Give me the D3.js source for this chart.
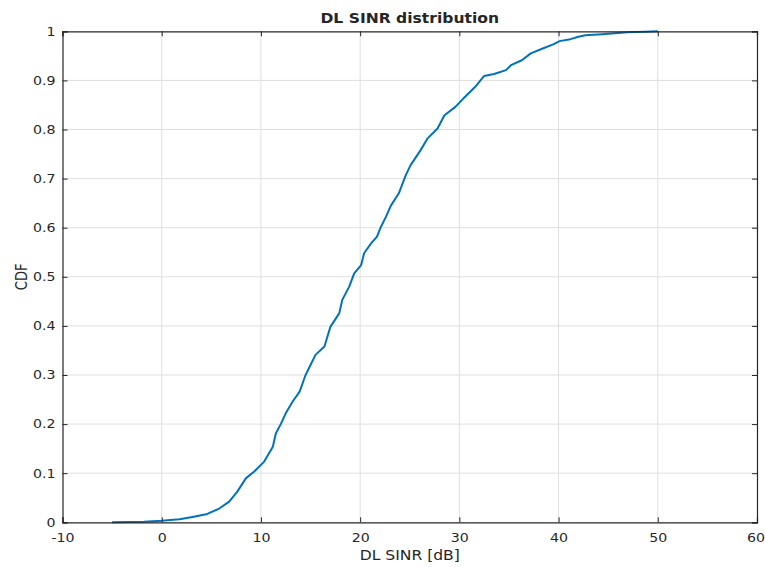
<!DOCTYPE html>
<html><head><meta charset="utf-8">
<script src="https://cdn.jsdelivr.net/npm/d3@7"></script>
<style>body{margin:0;background:#fff}svg{display:block}text{font-family:"DejaVu Sans",sans-serif;fill:#262626}</style>
</head><body>
<script>
const title = "DL SINR distribution";
const xLabel = "DL SINR [dB]";
const yLabel = "CDF";
const xTicks = [-10, 0, 10, 20, 30, 40, 50, 60];
const yTicks = [0, 0.1, 0.2, 0.3, 0.4, 0.5, 0.6, 0.7, 0.8, 0.9, 1];
const sinr = [-5.0, -1.8, 0.0, 1.8, 3.1, 4.6, 5.8, 6.8, 7.6, 8.5, 9.3, 10.0, 10.3, 10.8, 11.2, 11.5, 12.0, 12.5, 13.2, 13.9, 14.5, 15.5, 16.4, 17.0, 17.9, 18.2, 18.9, 19.4, 20.1, 20.4, 21.1, 21.7, 22.1, 22.6, 23.1, 23.9, 24.6, 25.1, 26.1, 26.8, 27.8, 28.5, 29.6, 30.4, 31.6, 32.5, 33.5, 34.7, 35.2, 36.3, 37.2, 38.4, 39.4, 40.1, 41.2, 42.0, 42.7, 44.4, 46.9, 48.8, 50.0];
const cdf  = [0.000, 0.001, 0.003, 0.006, 0.011, 0.017, 0.028, 0.042, 0.062, 0.090, 0.103, 0.117, 0.123, 0.140, 0.154, 0.181, 0.200, 0.222, 0.246, 0.266, 0.300, 0.341, 0.358, 0.398, 0.426, 0.453, 0.480, 0.507, 0.524, 0.548, 0.568, 0.582, 0.602, 0.622, 0.645, 0.670, 0.707, 0.728, 0.758, 0.782, 0.802, 0.829, 0.846, 0.863, 0.887, 0.909, 0.913, 0.921, 0.931, 0.941, 0.955, 0.965, 0.973, 0.980, 0.984, 0.989, 0.992, 0.994, 0.998, 0.999, 1.000];

const W = 765, H = 567;
const SX = 1.18; // horizontal text stretch seen in the reference
const m = {left: 62.5, right: 8, top: 31.3, bottom: 44.7};
const svg = d3.select("body").append("svg").attr("width", W).attr("height", H);
const x = d3.scaleLinear().domain([-10, 60]).range([m.left, W - m.right]);
const y = d3.scaleLinear().domain([0, 1]).range([H - m.bottom, m.top]);

// grid
const g = svg.append("g");
g.selectAll(".gx").data(xTicks.slice(1, -1)).join("line")
  .attr("x1", d => x(d)).attr("x2", d => x(d)).attr("y1", y(0)).attr("y2", y(1))
  .attr("stroke", "#dfdfdf").attr("stroke-width", 1);
g.selectAll(".gy").data(yTicks.slice(1, -1)).join("line")
  .attr("x1", x(-10)).attr("x2", x(60)).attr("y1", d => y(d)).attr("y2", d => y(d))
  .attr("stroke", "#dfdfdf").attr("stroke-width", 1);

// curve
const pts = sinr.map((v, i) => [v, cdf[i]]);
svg.append("path").datum(pts)
  .attr("d", d3.line().x(d => x(d[0])).y(d => y(d[1])).curve(d3.curveLinear))
  .attr("fill", "none").attr("stroke", "#0072BD").attr("stroke-width", 2).attr("stroke-linejoin", "round");

// axes
const tl = -5;
const fmt = d => String(d);
const ax = svg.append("g").attr("transform", `translate(0,${y(0)})`)
  .call(d3.axisBottom(x).tickValues(xTicks).tickFormat(fmt).tickSize(tl).tickPadding(11.5));
const axT = svg.append("g").attr("transform", `translate(0,${y(1)})`)
  .call(d3.axisTop(x).tickValues(xTicks).tickFormat("").tickSize(tl));
const ay = svg.append("g").attr("transform", `translate(${x(-10)},0)`)
  .call(d3.axisLeft(y).tickValues(yTicks).tickFormat(fmt).tickSize(tl));
const ayR = svg.append("g").attr("transform", `translate(${x(60)},0)`)
  .call(d3.axisRight(y).tickValues(yTicks).tickFormat("").tickSize(tl));
[ax, axT, ay, ayR].forEach(a => {
  a.select(".domain").attr("stroke", "#262626").attr("stroke-width", 1.2);
  a.selectAll(".tick line").attr("stroke", "#262626");
  a.selectAll("text").attr("font-size", 12).attr("fill", "#262626").attr("font-family", "DejaVu Sans")
    .attr("transform", `scale(${SX},1)`);
});
ay.selectAll("text").attr("x", -7 / SX);
// keep the last x label inside the window
ax.selectAll(".tick text").filter(d => d === 60).attr("text-anchor", "end").attr("x", 7.5 / SX);

function stretchedText(cx, cy, str, size, bold) {
  svg.append("text").attr("transform", `translate(${cx},${cy}) scale(${SX},1)`)
    .attr("text-anchor", "middle").attr("font-size", size)
    .attr("font-weight", bold ? "bold" : "normal").text(str);
}
stretchedText((x(-10) + x(60)) / 2, 23, title, 13.2, true);
stretchedText((x(-10) + x(60)) / 2, 560, xLabel, 13.2, false);
svg.append("text").attr("transform", `translate(27,${(y(0) + y(1)) / 2}) rotate(-90) scale(1,${SX})`).attr("text-anchor", "middle")
  .attr("font-size", 13.2).text(yLabel);
</script>
</body></html>
